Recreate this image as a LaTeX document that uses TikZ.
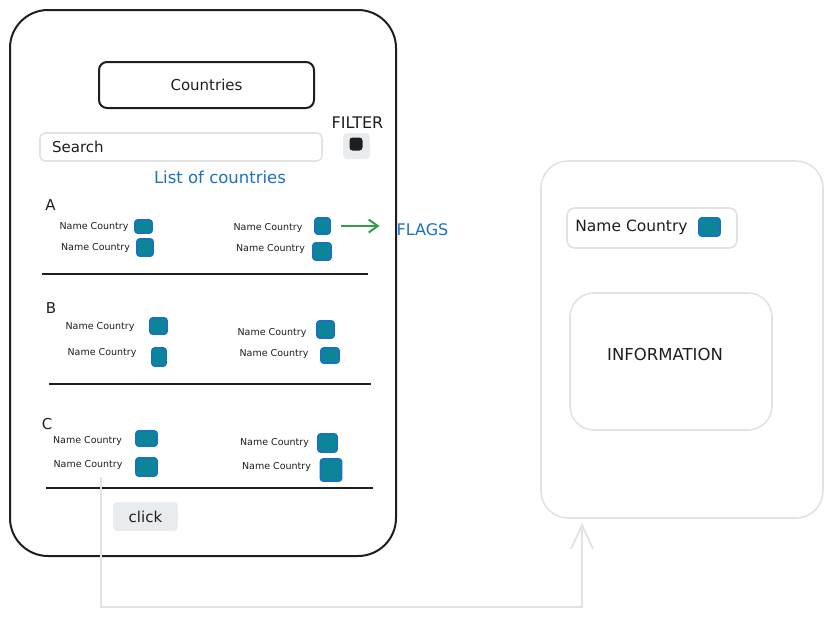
\documentclass[tikz,border=0pt]{standalone}
\usepackage{fontspec}
\setmainfont{DejaVu Sans}
\usetikzlibrary{arrows.meta}
\definecolor{inkblack}{HTML}{1E1E1E}
\definecolor{sketchgray}{HTML}{E2E2E2}
\definecolor{btngray}{HTML}{E9ECEF}
\definecolor{flagfill}{HTML}{0C8599}
\definecolor{flagline}{HTML}{1971C2}
\definecolor{listblue}{HTML}{1971C2}
\definecolor{arrowgreen}{HTML}{2F9E44}
\tikzset{
  big/.style={font=\fontsize{15}{17}\selectfont, text=inkblack, inner sep=0},
  small/.style={font=\fontsize{9.5}{11}\selectfont, text=inkblack, inner sep=0},
  flag/.style={draw=flagline, fill=flagfill, line width=1.6pt, rounded corners=2.5pt, inner sep=0},
  panel/.style={draw=sketchgray, line width=1.6pt},
  button/.style={fill=btngray, rounded corners=4pt, inner sep=0},
  divider/.style={draw=inkblack, line width=2.6pt},
  link/.style={draw=sketchgray, line width=1.8pt},
}
\begin{document}
\begin{tikzpicture}[x=1pt,y=-1pt]
\useasboundingbox (0,0) rectangle (833,619);
% phone screen with the list
\node[draw=inkblack, line width=2pt, rounded corners=38pt, minimum width=386pt, minimum height=546pt] (phone) at (203,283) {};
\node[draw=inkblack, line width=2pt, rounded corners=8pt, minimum width=215pt, minimum height=46pt, big] (title) at (206.5,85) {Countries};
\node[big, font=\fontsize{16}{18}\selectfont] (filter) at (357.5,122.5) {FILTER};
\node[button, minimum width=27pt, minimum height=26pt] (filterbtn) at (356.5,146) {};
\node[fill=inkblack, rounded corners=3pt, minimum size=13pt, inner sep=0] (filterdot) at (356,144) {};
\node[panel, rounded corners=5pt, minimum width=282pt, minimum height=28pt] (search) at (181,147) {};
\node[big, anchor=west] (searchtxt) at (52,147) {Search};
\node[big, font=\fontsize{16.5}{18}\selectfont, text=listblue] (listhead) at (220,177) {List of countries};
% group A
\node[big] (la) at (50.5,205) {A};
\node[small] (a1l) at (94,227) {Name Country};
\node[flag, minimum width=17pt, minimum height=13pt] (fa1l) at (143.5,226.5) {};
\node[small] (a2l) at (95.5,248) {Name Country};
\node[flag, minimum width=16pt, minimum height=17pt] (fa2l) at (145,247.5) {};
\node[small] (a1r) at (268,228) {Name Country};
\node[flag, minimum width=15pt, minimum height=16pt] (fa1r) at (322.5,226) {};
\node[small] (a2r) at (270.5,249) {Name Country};
\node[flag, minimum width=18pt, minimum height=17pt] (fa2r) at (322,251.5) {};
\draw[divider] (42,274) -- (368,274);
% group B
\node[big] (lb) at (51,308) {B};
\node[small] (b1l) at (100,327) {Name Country};
\node[flag, minimum width=17pt, minimum height=16pt] (fb1l) at (158.5,326) {};
\node[small] (b2l) at (102,353) {Name Country};
\node[flag, minimum width=14pt, minimum height=18pt] (fb2l) at (159,357) {};
\node[small] (b1r) at (272,333) {Name Country};
\node[flag, minimum width=17pt, minimum height=17pt] (fb1r) at (325.5,329.5) {};
\node[small] (b2r) at (274,354) {Name Country};
\node[flag, minimum width=18pt, minimum height=15pt] (fb2r) at (330,355.5) {};
\draw[divider] (49,384) -- (371,384);
% group C
\node[big] (lc) at (47,424) {C};
\node[small] (c1l) at (87.5,441) {Name Country};
\node[flag, minimum width=21pt, minimum height=15pt] (fc1l) at (146.5,438.5) {};
\node[small] (c2l) at (88,465) {Name Country};
\node[flag, minimum width=21pt, minimum height=18pt] (fc2l) at (146.5,467) {};
\node[small] (c1r) at (274.5,443) {Name Country};
\node[flag, minimum width=19pt, minimum height=18pt] (fc1r) at (327.5,443) {};
\node[small] (c2r) at (276.5,467) {Name Country};
\node[flag, minimum width=21pt, minimum height=22pt] (fc2r) at (331,470) {};
\draw[divider] (46,488) -- (373,488);
\node[button, minimum width=65pt, minimum height=29pt, big] (click) at (145.5,516.5) {click};
% flags note
\node[big, font=\fontsize{16}{18}\selectfont, text=listblue] (flags) at (422.5,230) {FLAGS};
\draw[draw=arrowgreen, line width=2pt, -{Straight Barb[length=9pt,width=13pt]}] ([xshift=10pt]fa1r.east) -- ([xshift=-17pt]fa1r.east -| flags.west);
% detail screen
\node[panel, rounded corners=27pt, minimum width=282pt, minimum height=357pt] (detail) at (682,339.5) {};
\node[panel, rounded corners=8pt, minimum width=170pt, minimum height=40pt] (namebox) at (652,228) {};
\node[big, font=\fontsize{15.5}{18}\selectfont] (nametxt) at (631.5,227) {Name Country};
\node[flag, minimum width=21pt, minimum height=18pt] (fname) at (709.5,227) {};
\node[panel, rounded corners=24pt, minimum width=202pt, minimum height=137pt] (infobox) at (671,361.5) {};
\node[big, font=\fontsize{16.5}{18}\selectfont] (infotxt) at (665,354) {INFORMATION};
% navigation
\coordinate (tap) at (101,477);
\coordinate (turn) at (582,607);
\draw[link, -{Straight Barb[length=24pt,width=22pt]}] (tap) |- (turn) -- ([yshift=-4pt]turn |- detail.south);
\end{tikzpicture}
\end{document}
